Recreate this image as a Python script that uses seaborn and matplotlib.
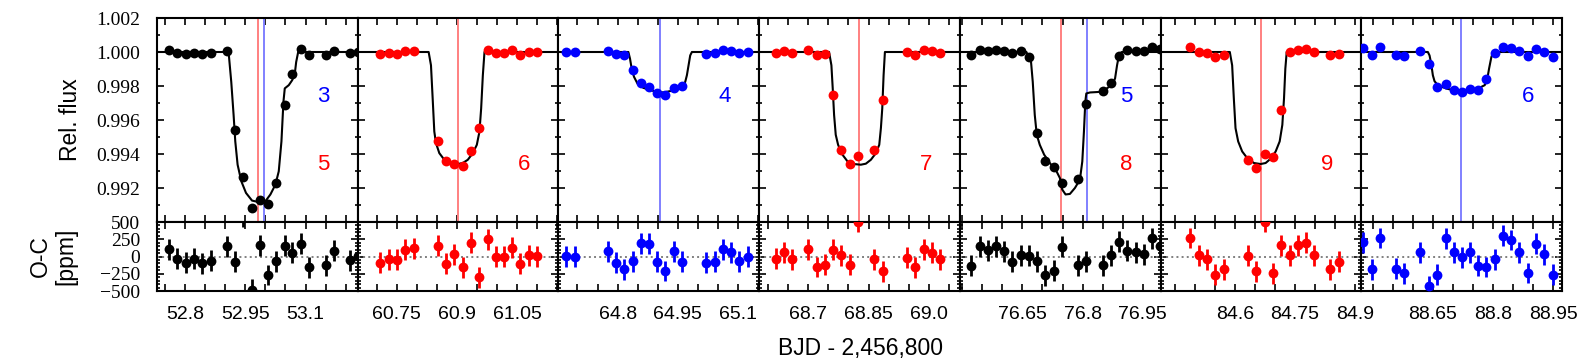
import numpy as np
import pandas as pd
import seaborn as sns
import matplotlib.pyplot as plt
from matplotlib.ticker import MultipleLocator, FixedFormatter

# x-window of each transit panel (BJD - 2,456,800), each 0.5 d wide
x_start = [52.73, 60.6525, 64.6525, 68.5775, 76.4942, 84.415, 88.4717]
x_width = 0.5
tick_pos = [[52.8, 52.95, 53.1], [60.75, 60.9, 61.05], [64.8, 64.95, 65.1],
            [68.7, 68.85, 69.0], [76.65, 76.8, 76.95], [84.6, 84.75, 84.9],
            [88.65, 88.8, 88.95]]
tick_txt = [["52.8", "52.95", "53.1"], ["60.75", "60.9", "61.05"], ["64.8", "64.95", "65.1"],
            ["68.7", "68.85", "69.0"], ["76.65", "76.8", "76.95"], ["84.6", "84.75", "84.9"],
            ["88.65", "88.8", "88.95"]]
flux_ticks = [0.992, 0.994, 0.996, 0.998, 1.000, 1.002]
flux_tick_txt = ["0.992", "0.994", "0.996", "0.998", "1.000", "1.002"]
oc_ticks = [-500, -250, 0, 250, 500]
oc_tick_txt = ["\u2212500", "\u2212250", "0", "250", "500"]
panel_colors = ["black", "red", "blue", "red", "black", "red", "blue"]
red_tags = ["5", "6", "", "7", "8", "9", ""]
blue_tags = ["3", "", "4", "", "5", "", "6"]
red_lines = [52.9817, 60.902, None, 68.8267, 76.7458, 84.665, None]
blue_lines = [52.9975, None, 64.906, None, 76.8108, None, 88.7208]

# panel 1
time_1 = [52.760, 52.7808, 52.8017, 52.8225, 52.8433, 52.8642, 52.9042, 52.9242, 52.945, 52.9658,
          52.9867, 53.0067, 53.0275, 53.0483, 53.0667, 53.0883, 53.1083, 53.15, 53.1708, 53.2117, 53.2317]
flux_1 = [1.0001, 0.99994, 0.99988, 0.99996, 0.99988, 0.99994, 1.00008, 0.9954, 0.99264, 0.99083,
          0.99128, 0.99108, 0.99229, 0.9969, 0.99871, 1.0002, 0.9998, 0.99982, 1.00008, 0.99994, 0.99998]
resid_1 = [106, -29, -87, -29, -101, -63, 150, -77, 580, -480, 164, -270, -68, 155, 53, 188, -159,
           -126, 82, -53, 10]
model_t_1 = [52.73, 52.9083, 52.915, 52.9208, 52.925, 52.9308, 52.94, 52.9517, 52.9667, 52.9833, 53.0,
             53.0125, 53.025, 53.0333, 53.04, 53.045, 53.0483, 53.0583, 53.0667, 53.0733, 53.0767,
             53.0817, 53.24]
model_f_1 = [1.0, 1.0, 0.99824, 0.9963, 0.99474, 0.99337, 0.9924, 0.99171, 0.99126, 0.99117, 0.99122,
             0.99162, 0.9922, 0.99298, 0.99474, 0.99708, 0.99786, 0.99805, 0.99834, 0.99873, 0.99941,
             1.0, 1.0]

# panel 2
time_2 = [60.7083, 60.7292, 60.75, 60.7708, 60.7917, 60.8517, 60.8725, 60.8933, 60.9142, 60.935,
          60.9558, 60.9767, 60.9967, 61.0167, 61.0367, 61.0575, 61.0783, 61.0992]
flux_2 = [0.99988, 0.99992, 0.9999, 1.00008, 1.00008, 0.99477, 0.99356, 0.99343, 0.99331, 0.99415,
          0.99555, 1.00014, 0.99996, 0.99996, 1.0001, 0.99984, 0.99998, 0.99998]
resid_2 = [-87, -43, -48, 101, 116, 155, -106, 34, -159, 198, -300, 251, -5, 0, 130, -106, 19, 5]
model_t_2 = [60.64, 60.8292, 60.835, 60.8392, 60.8433, 60.8475, 60.8558, 60.8683, 60.885, 60.9017,
             60.9142, 60.9267, 60.9392, 60.9492, 60.9558, 60.96, 60.9642, 60.9683, 61.16]
model_f_2 = [1.0, 1.0, 0.99922, 0.99727, 0.99532, 0.99464, 0.99405, 0.99366, 0.99347, 0.99341,
             0.99347, 0.99366, 0.99405, 0.99454, 0.99532, 0.99668, 0.99863, 1.0, 1.0]

# panel 3
time_3 = [64.6725, 64.6933, 64.775, 64.7958, 64.8167, 64.8375, 64.8575, 64.8783, 64.8983, 64.9192,
          64.94, 64.96, 65.0208, 65.0417, 65.0625, 65.0825, 65.1033, 65.1242]
flux_3 = [0.99998, 0.99998, 1.00008, 0.99988, 0.9998, 0.99897, 0.99819, 0.99797, 0.9976, 0.99746,
          0.99787, 0.99799, 0.9999, 0.99994, 1.00012, 1.00008, 0.99994, 0.99998]
resid_3 = [5, -5, 77, -92, -184, -68, 193, 184, -77, -208, 77, -77, -87, -77, 106, 58, -68, 0]
model_t_3 = [64.64, 64.8267, 64.8308, 64.835, 64.8408, 64.8492, 64.8642, 64.8808, 64.8975, 64.9142,
             64.9308, 64.9475, 64.9625, 64.9683, 64.9725, 64.9767, 64.9808, 64.985, 65.16]
model_f_3 = [1.0, 1.0, 0.99961, 0.99902, 0.99854, 0.99815, 0.99789, 0.99776, 0.99766, 0.99762,
             0.9977, 0.99781, 0.99801, 0.99824, 0.99863, 0.99922, 0.9998, 1.0, 1.0]

# panel 4
time_4 = [68.6183, 68.6392, 68.6592, 68.7, 68.7208, 68.7417, 68.7625, 68.7825, 68.8033, 68.8233,
          68.8642, 68.885, 68.9458, 68.9667, 68.9875, 69.0075, 69.0283]
flux_4 = [0.99994, 1.00006, 0.99994, 1.00012, 0.99984, 0.99988, 0.99746, 0.99424, 0.99344, 0.99389,
          0.99421, 0.99719, 0.99998, 0.9998, 1.00012, 1.00006, 0.99994]
resid_4 = [-29, 58, -39, 106, -150, -116, 97, 19, -116, 505, -43, -213, -19, -159, 106, 53, -39]
model_t_4 = [68.57, 68.7517, 68.7575, 68.7608, 68.7642, 68.7683, 68.7742, 68.785, 68.7975, 68.8142,
             68.8308, 68.8433, 68.8558, 68.8683, 68.8767, 68.8808, 68.8842, 68.8875, 68.8908, 69.09]
model_f_4 = [1.0, 1.0, 0.99922, 0.99786, 0.9963, 0.99513, 0.99454, 0.99396, 0.99357, 0.99341,
             0.99337, 0.99343, 0.99366, 0.99405, 0.99454, 0.99552, 0.99668, 0.99863, 1.0, 1.0]

# panel 5
time_5 = [76.5225, 76.5433, 76.5642, 76.5842, 76.605, 76.625, 76.6458, 76.6658, 76.6867, 76.7075,
          76.7275, 76.7483, 76.7892, 76.8092, 76.85, 76.8708, 76.8908, 76.9117, 76.9325, 76.9525,
          76.9733, 76.9933]
flux_5 = [0.99984, 1.00014, 1.00008, 1.00014, 1.00008, 0.99994, 1.00004, 0.99969, 0.99526, 0.99356,
          0.99325, 0.99229, 0.99255, 0.99692, 0.9977, 0.99815, 0.99979, 1.00012, 1.00008, 1.00004,
          1.00027, 1.0002]
resid_5 = [-135, 150, 87, 145, 77, -77, 19, 10, -68, -275, -203, 140, -126, -68, -126, 19, 217, 82,
           58, 34, 261, 150]
model_t_5 = [76.49, 76.66, 76.6658, 76.6708, 76.6758, 76.6808, 76.6858, 76.6933, 76.7042, 76.7183,
             76.735, 76.7433, 76.7492, 76.7575, 76.7683, 76.7808, 76.7933, 76.7992, 76.8033, 76.8067,
             76.8092, 76.8183, 76.8475, 76.8725, 76.8808, 76.8858, 76.8908, 76.8975, 77.01]
model_f_5 = [1.0, 1.0, 0.99971, 0.99961, 0.99824, 0.9963, 0.99513, 0.99454, 0.99396, 0.99347,
             0.99298, 0.99259, 0.99191, 0.99162, 0.99165, 0.992, 0.99249, 0.99356, 0.99532, 0.99708,
             0.99756, 0.99762, 0.99766, 0.99805, 0.99844, 0.99922, 0.99984, 1.0, 1.0]

# panel 6
time_6 = [84.4892, 84.51, 84.5308, 84.5517, 84.5725, 84.6325, 84.6533, 84.6742, 84.695, 84.7158,
          84.7367, 84.7567, 84.7767, 84.7967, 84.8375, 84.8583]
flux_6 = [1.00027, 1.00002, 0.99994, 0.99971, 0.9998, 0.99362, 0.99317, 0.99401, 0.9938, 0.99657,
          1.0, 1.00014, 1.00018, 1.00002, 0.9998, 0.9999]
resid_6 = [270, 19, -43, -261, -188, 10, -213, 505, -246, 164, 19, 164, 198, 19, -184, -77]
model_t_6 = [84.41, 84.5875, 84.5933, 84.5975, 84.6017, 84.6083, 84.6183, 84.6308, 84.6475, 84.6642,
             84.6767, 84.6892, 84.7017, 84.7117, 84.7183, 84.7225, 84.7258, 84.7292, 84.93]
model_f_6 = [1.0, 1.0, 0.99922, 0.99727, 0.99552, 0.99474, 0.99415, 0.99376, 0.99347, 0.99341,
             0.99347, 0.99372, 0.99415, 0.99474, 0.99571, 0.99727, 0.99902, 1.0, 1.0]

# panel 7
time_7 = [88.4767, 88.4975, 88.5183, 88.5583, 88.5792, 88.6192, 88.64, 88.6608, 88.6817, 88.7017,
          88.7225, 88.7425, 88.7633, 88.7833, 88.8042, 88.8242, 88.845, 88.8658, 88.8867, 88.9067,
          88.9275, 88.9483]
flux_7 = [1.00023, 0.9998, 1.00027, 0.9998, 0.99975, 1.00008, 0.9993, 0.99793, 0.99811, 0.99776,
          0.99766, 0.99781, 0.99778, 0.99844, 0.99992, 1.00029, 1.00025, 1.00006, 0.99975, 1.00018,
          1.00002, 0.99971]
resid_7 = [203, -188, 270, -174, -246, 58, -430, -261, 261, 58, -14, 58, -135, -150, -43, 300, 237,
           58, -237, 188, 29, -261]
model_t_7 = [88.46, 88.6375, 88.6417, 88.6458, 88.65, 88.6542, 88.6625, 88.6833, 88.7042, 88.7208,
             88.7417, 88.7625, 88.7792, 88.785, 88.79, 88.7958, 88.8, 88.8042, 88.98]
model_f_7 = [1.0, 1.0, 0.9998, 0.99932, 0.99863, 0.99828, 0.99805, 0.99785, 0.99774, 0.9977,
             0.99774, 0.99785, 0.99805, 0.99834, 0.99902, 0.99971, 0.99996, 1.0, 1.0]

resid_err = 150  # ppm

times = [time_1, time_2, time_3, time_4, time_5, time_6, time_7]
fluxes = [flux_1, flux_2, flux_3, flux_4, flux_5, flux_6, flux_7]
resids = [resid_1, resid_2, resid_3, resid_4, resid_5, resid_6, resid_7]
model_ts = [model_t_1, model_t_2, model_t_3, model_t_4, model_t_5, model_t_6, model_t_7]
model_fs = [model_f_1, model_f_2, model_f_3, model_f_4, model_f_5, model_f_6, model_f_7]

sns.set_theme(style="ticks", rc={"axes.edgecolor": "black", "text.color": "black",
                                 "xtick.color": "black", "ytick.color": "black",
                                 "axes.linewidth": 1.4})
plt.rcParams['font.family'] = ['Liberation Sans', 'DejaVu Sans']

fig = plt.figure(figsize=(15.78, 3.64), dpi=100)
gs = fig.add_gridspec(2, 7, left=157 / 1578, right=1562 / 1578, top=1 - 18 / 364,
                      bottom=1 - 291 / 364, height_ratios=[204, 69], hspace=0, wspace=0)

dot_size = 50
first_axes = []

for i in range(7):
    c = panel_colors[i]
    ax = fig.add_subplot(gs[0, i])
    axr = fig.add_subplot(gs[1, i])
    df = pd.DataFrame({'t': times[i], 'f': fluxes[i], 'r': resids[i]})
    dm = pd.DataFrame({'t': model_ts[i], 'f': model_fs[i]})

    # flux panel
    if red_lines[i] is not None:
        ax.axvline(red_lines[i], color='#ff8080', lw=1.4, zorder=1)
    if blue_lines[i] is not None:
        ax.axvline(blue_lines[i], color='#8080ff', lw=1.4, zorder=1)
    sns.lineplot(data=dm, x='t', y='f', color='black', lw=1.5, estimator=None, sort=False,
                 ax=ax, zorder=2)
    sns.scatterplot(data=df, x='t', y='f', color=c, s=dot_size, linewidth=0, ax=ax, zorder=3)
    if red_tags[i]:
        ax.text(0.83, 0.283, red_tags[i], color='red', fontsize=16, ha='center', va='center',
                transform=ax.transAxes)
    if blue_tags[i]:
        ax.text(0.83, 0.614, blue_tags[i], color='blue', fontsize=16, ha='center', va='center',
                transform=ax.transAxes)

    # residual panel
    axr.axhline(0, color='gray', ls=':', lw=1.4, zorder=1)
    axr.errorbar(df['t'], df['r'], yerr=resid_err, fmt='none', ecolor=c, elinewidth=2.0,
                 capsize=0, zorder=2)
    sns.scatterplot(data=df, x='t', y='r', color=c, s=dot_size, linewidth=0, ax=axr, zorder=3)

    x0 = x_start[i]
    for a in (ax, axr):
        a.set_xlim(x0, x0 + x_width)
        a.set_xticks(tick_pos[i])
        a.xaxis.set_minor_locator(MultipleLocator(0.05))
        a.set_xlabel('')
        a.set_ylabel('')
        a.tick_params(which='both', direction='in', top=True, right=True, width=1.2)
        a.tick_params(axis='x', which='both', length=5)
        a.tick_params(axis='y', which='major', length=5)
        a.tick_params(axis='y', which='minor', length=2.5)
        for s in a.spines.values():
            s.set_linewidth(1.5)

    ax.set_ylim(0.990, 1.002)
    ax.set_yticks(flux_ticks)
    ax.yaxis.set_minor_locator(MultipleLocator(0.001))
    ax.tick_params(axis='x', labelbottom=False)

    axr.set_ylim(-500, 500)
    axr.set_yticks(oc_ticks)
    axr.yaxis.set_minor_locator(MultipleLocator(50))
    axr.set_xticks(tick_pos[i], tick_txt[i])
    axr.tick_params(axis='x', labelsize=14, pad=11)

    if i == 0:
        ax.yaxis.set_major_formatter(FixedFormatter(flux_tick_txt))
        axr.yaxis.set_major_formatter(FixedFormatter(oc_tick_txt))
        for a in (ax, axr):
            a.tick_params(axis='y', labelsize=14, pad=12, labelfontfamily='Liberation Serif')
        first_axes = [ax, axr]
    else:
        ax.tick_params(axis='y', labelleft=False)
        axr.tick_params(axis='y', labelleft=False)

fig.text(70.7 / 1578, 1 - 120 / 364, 'Rel. flux', rotation=90, ha='center', va='center',
         fontsize=16.5)
fig.text(53 / 1578, 1 - 256.5 / 364, 'O-C\n[ppm]', rotation=90, ha='center', va='center',
         fontsize=16.5, multialignment='center', linespacing=1.15)
fig.text(860 / 1578, 1 - 348 / 364, 'BJD - 2,456,800', ha='center', va='center', fontsize=16.5)

fig.canvas.draw()
for a in first_axes:
    for t in a.yaxis.get_major_ticks():
        t.label1.set_fontfamily('Liberation Serif')

fig.savefig('out.png', dpi=100)
